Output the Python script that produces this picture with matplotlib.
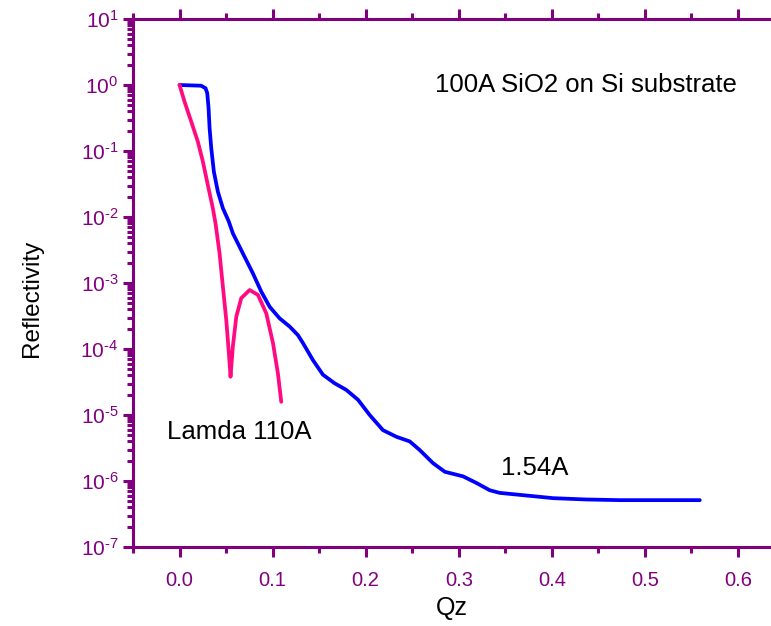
import matplotlib
matplotlib.use("Agg")
import matplotlib.pyplot as plt
from matplotlib.ticker import LogLocator, FuncFormatter, MultipleLocator, NullFormatter
import numpy as np

# ── data ────────────────────────────────────────────────────────────────────
# 1.54 A curve: Qz and log10(reflectivity)
qz_154 = [0.0, 0.0233, 0.028, 0.0298, 0.0312, 0.0323, 0.0341, 0.0369, 0.0412,
          0.0466, 0.053, 0.0573, 0.068, 0.0788, 0.0878, 0.0968, 0.1075, 0.1183,
          0.1272, 0.1326, 0.1434, 0.1541, 0.1667, 0.1792, 0.1918, 0.2043,
          0.2186, 0.233, 0.2473, 0.258, 0.2724, 0.285, 0.3047, 0.319, 0.3333,
          0.344, 0.3656, 0.4014, 0.437, 0.473, 0.559]
logr_154 = [0.0, -0.011, -0.05, -0.126, -0.353, -0.656, -0.959, -1.314, -1.617,
            -1.868, -2.071, -2.247, -2.55, -2.853, -3.13, -3.36, -3.535, -3.66,
            -3.79, -3.91, -4.17, -4.39, -4.52, -4.62, -4.77, -5.0,
            -5.23, -5.33, -5.40, -5.53, -5.73, -5.86, -5.93, -6.03, -6.14,
            -6.18, -6.21, -6.26, -6.28, -6.29, -6.29]

# 110 A curve
qz_110 = [0.0, 0.0054, 0.0126, 0.0197, 0.0251, 0.0304, 0.0358, 0.0387, 0.043,
          0.0466, 0.0502, 0.053, 0.0548, 0.0573, 0.061, 0.0663, 0.0753, 0.0842,
          0.0932, 0.1004, 0.1057, 0.1093]
logr_110 = [0.0, -0.253, -0.556, -0.859, -1.162, -1.515, -1.868, -2.10, -2.55,
            -3.056, -3.56, -4.065, -4.42, -3.96, -3.51, -3.23, -3.106, -3.18,
            -3.46, -3.91, -4.37, -4.80]

PURPLE = "#800080"
plt.rcParams["font.family"] = ["Liberation Sans", "DejaVu Sans"]
plt.rcParams["mathtext.fontset"] = "custom"
plt.rcParams["mathtext.rm"] = "Liberation Sans"


def log_label(v, pos):
    e = int(round(np.log10(v)))
    if e < 0:
        return r"$\mathregular{10^{\text{-}%d}}$" % abs(e)
    return r"$\mathregular{10^{%d}}$" % e


fig = plt.figure(figsize=(7.71, 6.26), dpi=100)
ax = fig.add_axes([133 / 771, 1 - 547 / 626, (784.5 - 133) / 771, (547 - 19) / 626])

ax.plot(qz_154, 10 ** np.array(logr_154), color="#0000FF", lw=2.7,
        solid_capstyle="round", solid_joinstyle="round")
ax.plot(qz_110, 10 ** np.array(logr_110), color="#FF0A80", lw=2.7,
        solid_capstyle="round", solid_joinstyle="round")

ax.set_yscale("log")
ax.set_xlim(-0.05, 0.65)
ax.set_ylim(1e-7, 1e1)

ax.xaxis.set_major_locator(MultipleLocator(0.1))
ax.xaxis.set_minor_locator(MultipleLocator(0.05))
ax.xaxis.set_major_formatter(FuncFormatter(lambda v, p: f"{v:.1f}"))
ax.yaxis.set_major_locator(LogLocator(base=10, numticks=20))
ax.yaxis.set_minor_locator(LogLocator(base=10, subs=np.arange(2, 10), numticks=20))
ax.yaxis.set_minor_formatter(NullFormatter())
ax.yaxis.set_major_formatter(FuncFormatter(log_label))

for s in ("left", "bottom", "top"):
    ax.spines[s].set_color(PURPLE)
    ax.spines[s].set_linewidth(2.2)
ax.spines["right"].set_visible(False)

ax.tick_params(which="both", direction="out", color=PURPLE, width=2.2,
               labelcolor=PURPLE, top=True, right=False)
ax.tick_params(which="major", length=7.5)
ax.tick_params(which="minor", length=4.5)
ax.tick_params(axis="y", labelsize=15, pad=3)
ax.tick_params(axis="x", labelsize=14.5, pad=10)

ax.set_xlabel("Qz", fontsize=18)
ax.set_ylabel("Reflectivity", fontsize=17.5)
ax.xaxis.set_label_coords(0.49, -0.1155, transform=ax.transAxes)
ax.yaxis.set_label_coords(-0.155, 0.47, transform=ax.transAxes)
ax.xaxis.label.set_va("center")
ax.yaxis.label.set_va("center")

ax.text(0.274, 10 ** 0.0, "100A SiO2 on Si substrate", fontsize=18.5, va="center", ha="left")
ax.text(-0.014, 10 ** -5.26, "Lamda 110A", fontsize=18.5, va="center", ha="left")
ax.text(0.345, 10 ** -5.80, "1.54A", fontsize=18.5, va="center", ha="left")

fig.savefig("out.png", dpi=100)
